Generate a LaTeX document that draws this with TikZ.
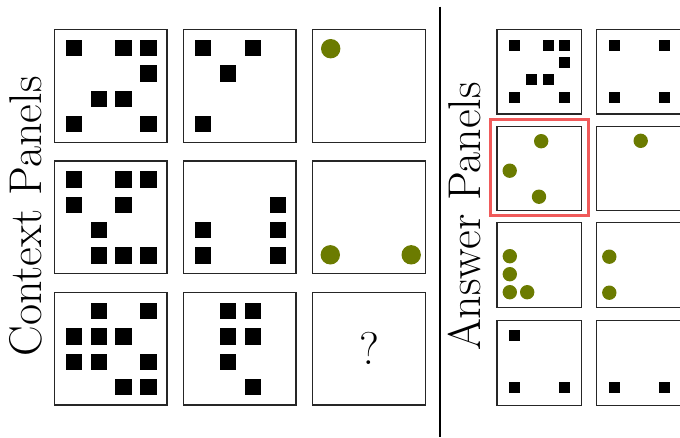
\documentclass[tikz,border=0pt]{standalone}
\usetikzlibrary{calc}
\definecolor{panelink}{HTML}{262626}
\definecolor{dotgreen}{HTML}{6B7B00}
\definecolor{pickred}{HTML}{F05A5A}

\begin{document}
\begin{tikzpicture}[
  x=1pt, y=-1pt,
  panel/.style={draw=panelink, line width=1.5pt, inner sep=0, outer sep=0, anchor=north west,
                minimum width=112.6pt, minimum height=112.6pt},
  apanel/.style={panel, line width=1.2pt, minimum width=84.5pt, minimum height=84.5pt},
  csq/.style={fill=black, inner sep=0, minimum size=16.3pt},
  asq/.style={csq, minimum size=11pt},
  cdot/.style={circle, fill=dotgreen, inner sep=0, minimum size=19.4pt},
  adot/.style={cdot, minimum size=14.4pt},
  sidelbl/.style={font=\fontsize{45.9}{52}\selectfont, rotate=90, anchor=base, inner sep=0},
  qmark/.style={font=\fontsize{45.9}{52}\selectfont, inner sep=0},
  pick/.style={draw=pickred, line width=2.7pt},
  divider/.style={line width=2pt},
]
\useasboundingbox (0,0) rectangle (680,437);

% ---- side labels ----
\node[sidelbl] (ctxlbl) at (41.7,216.5) {Context Panels};
\node[sidelbl] (anslbl) at (480,216.5) {Answer Panels};

% ---- divider ----
\coordinate (divtop) at (440,6.7);
\coordinate (divbot) at (440,437);
\draw[divider] (divtop) -- (divbot);

% ---- context panels (3 x 3) ----
\foreach \r/\ty in {1/29.7,2/161,3/292.5}{
  \foreach \c/\tx in {1/54.3,2/183.5,3/312.7}{ \node[panel] (c\r\c) at (\tx,\ty) {}; }
}

% squares on a 4 x 4 grid: row/col
\foreach \i/\j in {0/0,0/2,0/3,1/3,2/1,2/2,3/0,3/3}{ \node[csq] (c11s\i\j) at ($(c11.north west)+(19.5+24.9*\j,18.6+25.3*\i)$) {}; }
\foreach \i/\j in {0/0,0/2,1/1,3/0}{ \node[csq] (c12s\i\j) at ($(c12.north west)+(19.5+24.9*\j,18.6+25.3*\i)$) {}; }
\foreach \i/\j in {0/0,0/2,0/3,1/0,1/2,2/1,3/1,3/2,3/3}{ \node[csq] (c21s\i\j) at ($(c21.north west)+(19.5+24.9*\j,18.6+25.3*\i)$) {}; }
\foreach \i/\j in {1/3,2/0,2/3,3/0,3/3}{ \node[csq] (c22s\i\j) at ($(c22.north west)+(19.5+24.9*\j,18.6+25.3*\i)$) {}; }
\foreach \i/\j in {0/1,0/3,1/0,1/1,1/2,2/0,2/1,2/3,3/2,3/3}{ \node[csq] (c31s\i\j) at ($(c31.north west)+(19.5+24.9*\j,18.6+25.3*\i)$) {}; }
\foreach \i/\j in {0/1,0/2,1/1,1/2,2/1,3/2}{ \node[csq] (c32s\i\j) at ($(c32.north west)+(19.5+24.9*\j,18.6+25.3*\i)$) {}; }

% green dots
\node[cdot] (c13d1) at ($(c13.north west)+(18,19)$) {};
\node[cdot] (c23d1) at ($(c23.north west)+(17.6,93.8)$) {};
\node[cdot] (c23d2) at ($(c23.north west)+(98.5,93.8)$) {};

\node[qmark] (q) at (c33.center) {?};

% ---- answer panels (4 x 2, right column cut by the page) ----
\foreach \r/\ty in {1/29.5,2/126.2,3/222.6,4/320.6}{
  \foreach \c/\tx in {1/497,2/596.5}{ \node[apanel] (a\r\c) at (\tx,\ty) {}; }
}

\foreach \i/\j in {0/0,0/2,0/3,1/3,2/1,2/2,3/0,3/3}{ \node[asq] (a11s\i\j) at ($(a11.north west)+(17.5+16.8*\j,16+17.2*\i)$) {}; }
\foreach \i/\j in {0/0,0/3,3/0,3/3}{ \node[asq] (a12s\i\j) at ($(a12.north west)+(17.5+16.8*\j,16+17.2*\i)$) {}; }
\foreach \i/\j in {0/0,3/0,3/3}{ \node[asq] (a41s\i\j) at ($(a41.north west)+(17.5+16.8*\j,15.2+17.2*\i)$) {}; }
\foreach \i/\j in {3/0,3/3}{ \node[asq] (a42s\i\j) at ($(a42.north west)+(17.5+16.8*\j,15.2+17.2*\i)$) {}; }

\foreach \n/\dx/\dy in {1/44.2/15,2/12.7/44.5,3/42/70.5}{ \node[adot] (a21d\n) at ($(a21.north west)+(\dx,\dy)$) {}; }
\node[adot] (a22d1) at ($(a22.north west)+(44.2,14.6)$) {};
\foreach \n/\dx/\dy in {1/12.8/33.6,2/12.8/51.6,3/12.8/69.6,4/30.2/69.6}{ \node[adot] (a31d\n) at ($(a31.north west)+(\dx,\dy)$) {}; }
\foreach \n/\dx/\dy in {1/12.8/34.1,2/12.8/70.1}{ \node[adot] (a32d\n) at ($(a32.north west)+(\dx,\dy)$) {}; }

% ---- chosen answer ----
\draw[pick] ($(a21.north west)+(-6.3,-6.7)$) rectangle ($(a21.south east)+(6.8,4.8)$);

\end{tikzpicture}
\end{document}
